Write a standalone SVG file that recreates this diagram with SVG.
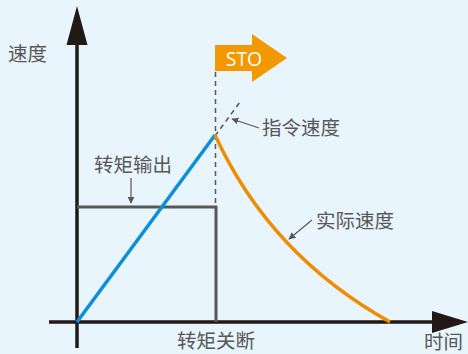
<svg xmlns="http://www.w3.org/2000/svg" width="468" height="354" viewBox="0 0 468 354">
<defs>
<style>
.t{font-family:"Noto Sans CJK SC","Noto Sans",sans-serif;font-size:19.5px;fill:#595757}
.ax{stroke:#231815;stroke-width:3.5;fill:none}
.g{stroke:#595757;stroke-width:3;fill:none}
.d{stroke:#595757;stroke-width:1.5;stroke-dasharray:5,4;fill:none}
.lead{stroke:#595757;stroke-width:1.2;fill:none}
</style>
<marker id="ah" viewBox="0 0 10 10" refX="9" refY="5" markerWidth="7" markerHeight="7" markerUnits="userSpaceOnUse" orient="auto">
<path d="M0,0 L10,5 L0,10 z" fill="#595757"/>
</marker>
</defs>
<rect width="468" height="354" fill="#e8f5fd"/>
<g id="axes">
<line class="ax" x1="77" y1="348" x2="77" y2="40"/>
<path d="M77,6 L66.5,45 L87.5,45 z" fill="#231815"/>
<line class="ax" x1="49" y1="322" x2="436" y2="322"/>
<path d="M468,322 L432,311 L432,333 z" fill="#231815"/>
</g>
<g id="connectors">
<line class="d" x1="215.5" y1="72" x2="215.5" y2="206"/>
<line class="d" x1="215" y1="136" x2="240" y2="102"/>
<polyline class="g" points="77,207 216,207 216,322"/>
<line class="lead" x1="259" y1="128" x2="232" y2="119" marker-end="url(#ah)"/>
<line class="lead" x1="131" y1="178" x2="131" y2="203" marker-end="url(#ah)"/>
<line class="lead" x1="312" y1="220" x2="289" y2="239" marker-end="url(#ah)"/>
</g>
<g id="command-speed">
<line x1="77" y1="322" x2="215" y2="135" stroke="#0a8fd8" stroke-width="3.5"/>
</g>
<g id="actual-speed">
<path d="M215,135 Q270,255 390,322" stroke="#f08c00" stroke-width="3.5" fill="none"/>
</g>
<g id="sto">
<path d="M215,45 L252,45 L252,34 L287,58 L252,82 L252,71 L215,71 z" fill="#f39800"/>
<text x="244" y="66" text-anchor="middle" font-family="'Open Sans','Noto Sans',sans-serif" font-size="19.5" font-weight="500" fill="#ffffff">STO</text>
</g>
<g id="labels">
<text class="t" x="8" y="61">速度</text>
<text class="t" x="262" y="135">指令速度</text>
<text class="t" x="94" y="172">转矩输出</text>
<text class="t" x="316" y="228">实际速度</text>
<text class="t" x="216" y="348" text-anchor="middle">转矩关断</text>
<text class="t" x="424" y="349">时间</text>
</g>
</svg>
